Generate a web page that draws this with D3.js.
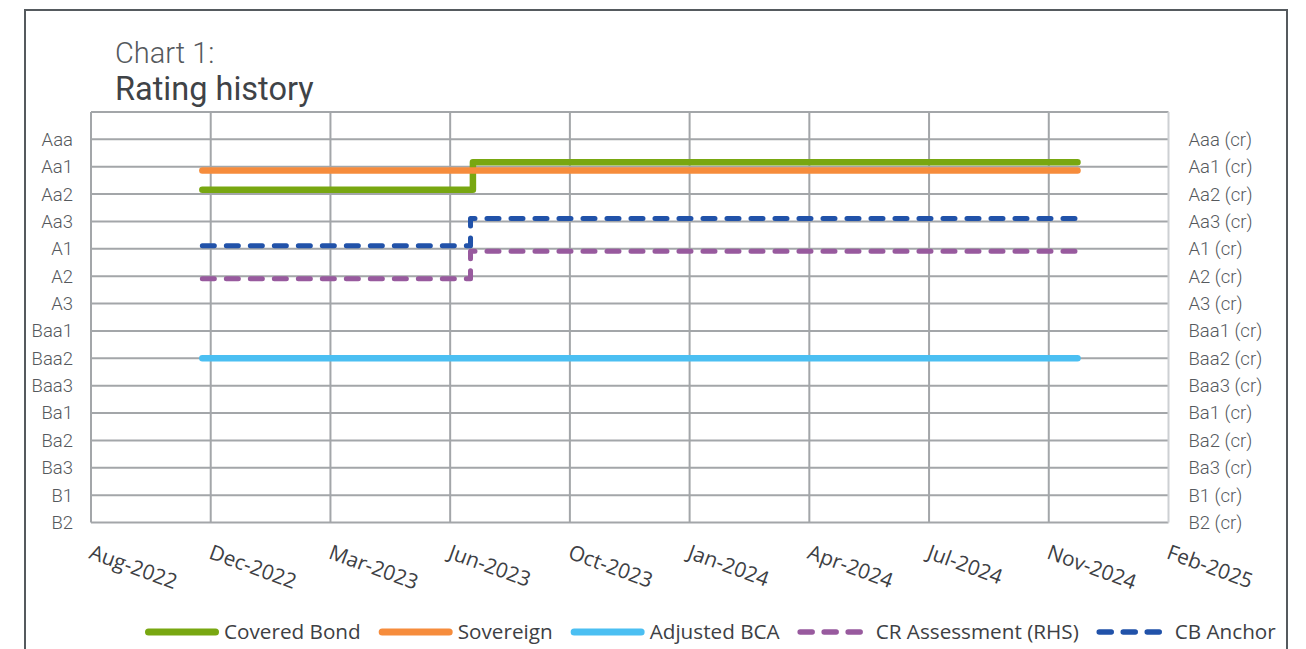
<!DOCTYPE html>
<html>
<head>
<meta charset="utf-8">
<title>Rating history</title>
<script src="https://cdn.jsdelivr.net/npm/d3@7"></script>
<style>
  body { margin: 0; background: #fff; }
  svg { display: block; }
</style>
</head>
<body>
<svg id="chart"></svg>
<script>
// rating scale, top to bottom
const ratings = ["Aaa", "Aa1", "Aa2", "Aa3", "A1", "A2", "A3", "Baa1", "Baa2", "Baa3", "Ba1", "Ba2", "Ba3", "B1", "B2"];
const rhsRatings = ["Aaa (cr)", "Aa1 (cr)", "Aa2 (cr)", "Aa3 (cr)", "A1 (cr)", "A2 (cr)", "A3 (cr)", "Baa1 (cr)", "Baa2 (cr)", "Baa3 (cr)", "Ba1 (cr)", "Ba2 (cr)", "Ba3 (cr)", "B1 (cr)", "B2 (cr)"];

// x axis ticks (100 day major unit)
const tickDates = ["2022-08-29", "2022-12-07", "2023-03-17", "2023-06-25", "2023-10-03", "2024-01-11", "2024-04-20", "2024-07-29", "2024-11-06", "2025-02-14"];

// series: dates where the rating changes + the rating from that date
const coveredBondDates = ["2022-11-30", "2023-07-14", "2024-11-30"];
const coveredBondRatings = ["Aa2", "Aa1", "Aa1"];

const sovereignDates = ["2022-11-30", "2024-11-30"];
const sovereignRatings = ["Aa1", "Aa1"];

const adjustedBcaDates = ["2022-11-30", "2024-11-30"];
const adjustedBcaRatings = ["Baa2", "Baa2"];

const crAssessmentDates = ["2022-11-30", "2023-07-12", "2024-11-30"];
const crAssessmentRatings = ["A2", "A1", "A1"];

const cbAnchorDates = ["2022-11-30", "2023-07-12", "2024-11-30"];
const cbAnchorRatings = ["A1", "Aa3", "Aa3"];

const parseDate = d3.timeParse("%Y-%m-%d");

// nudge keeps overlapping lines apart, like in the original workbook
const series = [
  {name: "Covered Bond", dates: coveredBondDates, values: coveredBondRatings, color: "#78a711", dashed: false, nudge: -0.16},
  {name: "Sovereign", dates: sovereignDates, values: sovereignRatings, color: "#f68c3c", dashed: false, nudge: 0.135},
  {name: "Adjusted BCA", dates: adjustedBcaDates, values: adjustedBcaRatings, color: "#4bbff2", dashed: false, nudge: 0},
  {name: "CR Assessment (RHS)", dates: crAssessmentDates, values: crAssessmentRatings, color: "#985a9e", dashed: true, nudge: 0.09},
  {name: "CB Anchor", dates: cbAnchorDates, values: cbAnchorRatings, color: "#2152a9", dashed: true, nudge: -0.11}
];

const width = 1306, height = 649;
const margin = {top: 112, left: 91, right: 1306 - 1168.5, bottom: 649 - 522.5};

const svg = d3.select("#chart")
  .attr("width", width)
  .attr("height", height);

// outer frame
svg.append("rect")
  .attr("x", 25).attr("y", 10)
  .attr("width", 1262).attr("height", 700)
  .attr("fill", "none")
  .attr("stroke", "#555a5e")
  .attr("stroke-width", 2);

// title
svg.append("text")
  .attr("x", 115).attr("y", 63)
  .attr("font-family", "Roboto")
  .attr("font-weight", 300)
  .attr("font-size", 29)
  .attr("fill", "#55595d")
  .text("Chart 1:");

svg.append("text")
  .attr("x", 115).attr("y", 100)
  .attr("font-family", "Roboto")
  .attr("font-size", 32.5)
  .attr("fill", "#3f4347")
  .text("Rating history");

const xScale = d3.scaleTime()
  .domain([parseDate(tickDates[0]), parseDate(tickDates[tickDates.length - 1])])
  .range([margin.left, width - margin.right]);

const yScale = d3.scaleLinear()
  .domain([0, ratings.length])
  .range([margin.top, height - margin.bottom]);

const ratingIndex = r => ratings.indexOf(r) + 1;

// gridlines
const grid = svg.append("g").attr("class", "grid");

grid.selectAll("line.h")
  .data(d3.range(0, ratings.length + 1))
  .join("line")
    .attr("class", "h")
    .attr("x1", margin.left).attr("x2", width - margin.right)
    .attr("y1", d => yScale(d)).attr("y2", d => yScale(d))
    .attr("stroke", "#a3a6a9")
    .attr("stroke-width", 2);

grid.selectAll("line.v")
  .data(tickDates.slice(0, -1))
  .join("line")
    .attr("class", "v")
    .attr("x1", d => xScale(parseDate(d))).attr("x2", d => xScale(parseDate(d)))
    .attr("y1", margin.top).attr("y2", height - margin.bottom)
    .attr("stroke", "#a3a6a9")
    .attr("stroke-width", 2);

// right axis line is lighter
grid.append("line")
  .attr("x1", width - margin.right).attr("x2", width - margin.right)
  .attr("y1", margin.top).attr("y2", height - margin.bottom)
  .attr("stroke", "#cdd0d3")
  .attr("stroke-width", 2);

// left axis labels
const yAxisLeft = d3.axisLeft(yScale)
  .tickValues(d3.range(1, ratings.length + 1))
  .tickFormat(d => ratings[d - 1])
  .tickSize(0)
  .tickPadding(18);

svg.append("g")
  .attr("transform", `translate(${margin.left},0)`)
  .call(yAxisLeft)
  .call(g => g.select(".domain").remove())
  .selectAll("text")
    .attr("font-family", "Roboto")
    .attr("font-weight", 300)
    .attr("font-size", 18.5)
    .attr("fill", "#55595d");

const yAxisRight = d3.axisRight(yScale)
  .tickValues(d3.range(1, ratings.length + 1))
  .tickFormat(d => rhsRatings[d - 1])
  .tickSize(0)
  .tickPadding(20);

svg.append("g")
  .attr("transform", `translate(${width - margin.right},0)`)
  .call(yAxisRight)
  .call(g => g.select(".domain").remove())
  .selectAll("text")
    .attr("font-family", "Roboto")
    .attr("font-weight", 300)
    .attr("font-size", 18.5)
    .attr("fill", "#55595d");

// x axis labels, rotated
const fmt = d3.timeFormat("%b-%Y");
svg.append("g")
  .selectAll("text")
  .data(tickDates)
  .join("text")
    .attr("transform", d => `translate(${xScale(parseDate(d)) - 3},558) rotate(20)`)
    .attr("font-family", "Open Sans")
    .attr("font-size", 20.8)
    .attr("fill", "#3d4044")
    .text(d => fmt(parseDate(d)));

// lines
const lineGen = s => d3.line()
  .x(d => xScale(d.date))
  .y(d => yScale(ratingIndex(d.rating) + s.nudge))
  .curve(d3.curveStepAfter);

svg.append("g")
  .selectAll("path")
  .data(series)
  .join("path")
    .attr("d", s => lineGen(s)(s.dates.map((d, i) => ({date: parseDate(d), rating: s.values[i]}))))
    .attr("fill", "none")
    .attr("stroke", s => s.color)
    .attr("stroke-width", s => s.dashed ? 5 : 6.5)
    .attr("stroke-dasharray", s => s.dashed ? "12 12" : null)
    .attr("stroke-linecap", "round")
    .attr("stroke-linejoin", "round");

// legend
const legend = svg.append("g").attr("transform", "translate(0,632)");
let lx = 145;
series.forEach(s => {
  const item = legend.append("g");
  if (s.dashed) {
    item.append("line")
      .attr("x1", lx + 2.5).attr("x2", lx + 62.5)
      .attr("stroke", s.color)
      .attr("stroke-width", 5.5)
      .attr("stroke-dasharray", "12 12")
      .attr("stroke-linecap", "round");
    lx += 65 + 13;
  } else {
    item.append("line")
      .attr("x1", lx + 3.5).attr("x2", lx + 70.5)
      .attr("stroke", s.color)
      .attr("stroke-width", 7)
      .attr("stroke-linecap", "round");
    lx += 74 + 5;
  }
  const t = item.append("text")
    .attr("x", lx).attr("y", 7)
    .attr("font-family", "Open Sans")
    .attr("font-size", 20.7)
    .attr("fill", "#3d4044")
    .text(s.name);
  lx += t.node().getComputedTextLength() + 18;
});
</script>
</body>
</html>
